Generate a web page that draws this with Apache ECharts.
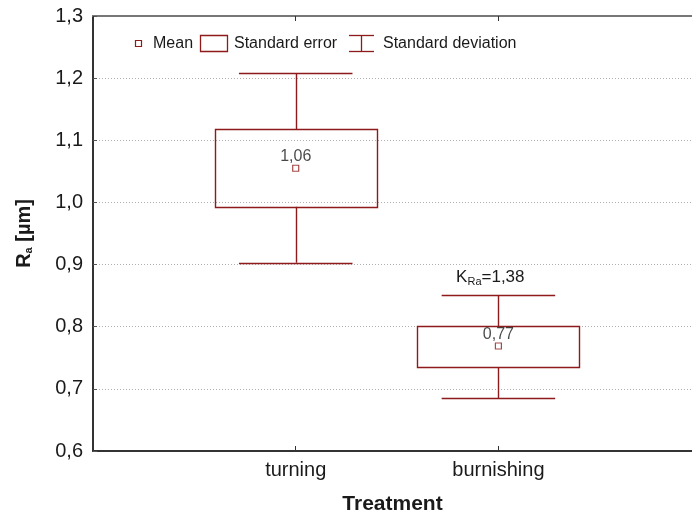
<!DOCTYPE html>
<html><head><meta charset="utf-8">
<script src="https://cdn.jsdelivr.net/npm/echarts@6/dist/echarts.min.js"></script>
<style>html,body{margin:0;padding:0;background:#fff}#c{width:692px;height:517px}</style>
</head><body><div id="c"></div>
<script>
const categories = ['turning', 'burnishing'];
const means = [1.055, 0.769];
const meanLabels = ['1,06', '0,77'];
const seLow = [0.993, 0.735];
const seHigh = [1.118, 0.801];
const sdLow = [0.903, 0.685];
const sdHigh = [1.208, 0.851];
const yTicks = [0.6, 0.7, 0.8, 0.9, 1.0, 1.1, 1.2, 1.3];
const annotation = {x: 1.96, y: 0.879, sub: 'Ra', value: '=1,38'};

const RED = '#8e1b1b';
const TXT = '#1a1a1a';
const FONT = 'Liberation Sans, Arial, sans-serif';

const chart = echarts.init(document.getElementById('c'));
const boxData = categories.map((c, i) => [i + 1, seLow[i], seHigh[i], sdLow[i], sdHigh[i]]);

chart.setOption({
  animation: false,
  backgroundColor: '#fff',
  textStyle: {fontFamily: FONT},
  grid: {left: 93, top: 16, bottom: 66, right: 0, containLabel: false, outerBoundsMode: 'none'},
  xAxis: [{
    type: 'value', min: 0, max: 2.955, interval: 1, position: 'bottom',
    axisLine: {show: true, lineStyle: {color: '#333', width: 2}},
    axisTick: {show: true, inside: true, length: 5, lineStyle: {color: '#333'}},
    splitLine: {show: false},
    axisLabel: {fontSize: 20, color: TXT, margin: 9, fontFamily: FONT, showMaxLabel: false,
      formatter: v => (v >= 1 && v <= categories.length && Number.isInteger(v)) ? categories[v - 1] : ''},
    name: 'Treatment', nameLocation: 'middle', nameGap: 43,
    nameTextStyle: {fontSize: 21, fontWeight: 'bold', color: TXT, fontFamily: FONT}
  }, {
    type: 'value', min: 0, max: 2.955, interval: 1, position: 'top',
    axisLine: {show: true, lineStyle: {color: '#777', width: 2}},
    axisTick: {show: true, inside: true, length: 5, lineStyle: {color: '#333'}},
    axisLabel: {show: false}, splitLine: {show: false}
  }],
  yAxis: {
    type: 'value', min: 0.6, max: 1.3, interval: 0.1,
    axisLine: {show: true, lineStyle: {color: '#333', width: 2}},
    axisTick: {show: true, inside: true, length: 4, lineStyle: {color: '#555'}},
    splitLine: {show: true, lineStyle: {color: '#b0b0b0', type: [1, 2], width: 1}},
    axisLabel: {fontSize: 20, color: TXT, margin: 10, fontFamily: FONT,
      formatter: v => v.toFixed(1).replace('.', ',')},
    name: '{m|R}{s|a}{m| [µm]}', nameLocation: 'middle', nameGap: 59, nameRotate: 90,
    nameTextStyle: {rich: {
      m: {fontSize: 20, fontWeight: 'bold', color: TXT, fontFamily: FONT},
      s: {fontSize: 11, fontWeight: 'bold', color: TXT, fontFamily: FONT, verticalAlign: 'bottom', padding: [9, 0, 0, 0]}
    }}
  },
  series: [{
    type: 'custom',
    data: boxData,
    renderItem: function (params, api) {
      const x = api.value(0);
      const lo = api.coord([x - 0.4, api.value(2)]);
      const hi = api.coord([x + 0.4, api.value(1)]);
      const cTop = api.coord([x, api.value(4)]);
      const cBot = api.coord([x, api.value(3)]);
      const capL = api.coord([x - 0.28, 0])[0];
      const capR = api.coord([x + 0.28, 0])[0];
      const cx = Math.round(cTop[0]) + 0.5;
      const st = {stroke: RED, lineWidth: 1.4, fill: null};
      return {type: 'group', children: [
        {type: 'rect', shape: {x: Math.round(lo[0]) + 0.5, y: Math.round(lo[1]) + 0.5, width: Math.round(hi[0] - lo[0]), height: Math.round(hi[1] - lo[1])}, style: {stroke: RED, lineWidth: 1.4, fill: 'rgba(0,0,0,0)'}},
        {type: 'line', shape: {x1: cx, y1: cTop[1], x2: cx, y2: lo[1]}, style: st},
        {type: 'line', shape: {x1: cx, y1: hi[1], x2: cx, y2: cBot[1]}, style: st},
        {type: 'line', shape: {x1: capL, y1: Math.round(cTop[1]) + 0.5, x2: capR, y2: Math.round(cTop[1]) + 0.5}, style: st},
        {type: 'line', shape: {x1: capL, y1: Math.round(cBot[1]) + 0.5, x2: capR, y2: Math.round(cBot[1]) + 0.5}, style: st}
      ]};
    },
    z: 2
  }, {
    type: 'scatter',
    data: means.map((m, i) => [i + 1, m]),
    symbol: 'rect', symbolSize: 6,
    itemStyle: {color: '#fff', borderColor: RED, borderWidth: 1.2},
    label: {show: true, position: 'top', distance: 0, fontSize: 16, color: TXT, fontFamily: FONT,
      formatter: p => meanLabels[p.dataIndex]},
    z: 3
  }, {
    type: 'custom',
    data: [[annotation.x, annotation.y]],
    renderItem: function (params, api) {
      const p = api.coord([api.value(0), api.value(1)]);
      return {type: 'text', x: p[0], y: p[1], style: {
        text: '{m|K}{s|' + annotation.sub + '}{m|' + annotation.value + '}',
        align: 'center', verticalAlign: 'middle',
        rich: {
          m: {fontSize: 17, fill: TXT, fontFamily: FONT},
          s: {fontSize: 11, fill: TXT, fontFamily: FONT, verticalAlign: 'bottom', padding: [9, 0, 0, 0]}
        }
      }};
    },
    z: 3
  }],
  graphic: [
    {type: 'rect', shape: {x: 135.5, y: 40.5, width: 6, height: 6}, style: {fill: '#fff', stroke: RED, lineWidth: 1.2}},
    {type: 'text', x: 153, y: 44, style: {text: 'Mean', fontSize: 16, fill: TXT, fontFamily: FONT, verticalAlign: 'middle'}},
    {type: 'rect', shape: {x: 200.5, y: 35.5, width: 27, height: 16}, style: {fill: '#fff', stroke: RED, lineWidth: 1.3}},
    {type: 'text', x: 234, y: 44, style: {text: 'Standard error', fontSize: 16, fill: TXT, fontFamily: FONT, verticalAlign: 'middle'}},
    {type: 'polyline', shape: {points: [[349, 35.5], [374, 35.5]]}, style: {stroke: RED, lineWidth: 1.3}},
    {type: 'polyline', shape: {points: [[349, 51.5], [374, 51.5]]}, style: {stroke: RED, lineWidth: 1.3}},
    {type: 'polyline', shape: {points: [[361.5, 35.5], [361.5, 51.5]]}, style: {stroke: RED, lineWidth: 1.3}},
    {type: 'text', x: 383, y: 44, style: {text: 'Standard deviation', fontSize: 16, fill: TXT, fontFamily: FONT, verticalAlign: 'middle'}}
  ]
});
</script></body></html>
